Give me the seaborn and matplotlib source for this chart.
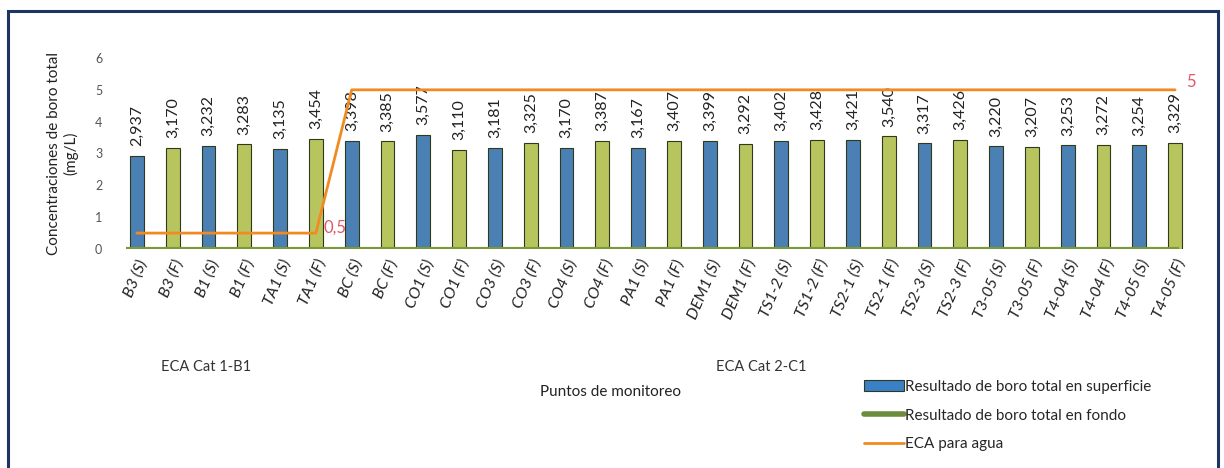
import pandas as pd
import seaborn as sns
from matplotlib import pyplot as plt
from matplotlib.lines import Line2D
from matplotlib.patches import Patch, Rectangle

sns.set_theme(style="white")
plt.rcParams["font.family"] = ["Lato", "DejaVu Sans"]

puntos = ["B3 (S)", "B3 (F)", "B1 (S)", "B1 (F)", "TA1 (S)", "TA1 (F)",
          "BC (S)", "BC (F)", "CO1 (S)", "CO1 (F)", "CO3 (S)", "CO3 (F)",
          "CO4 (S)", "CO4 (F)", "PA1 (S)", "PA1 (F)", "DEM1 (S)", "DEM1 (F)",
          "TS1-2 (S)", "TS1-2 (F)", "TS2-1 (S)", "TS2-1 (F)", "TS2-3 (S)", "TS2-3 (F)",
          "T3-05 (S)", "T3-05 (F)", "T4-04 (S)", "T4-04 (F)", "T4-05 (S)", "T4-05 (F)"]
boro = [2.937, 3.170, 3.232, 3.283, 3.135, 3.454,
        3.398, 3.385, 3.577, 3.110, 3.181, 3.325,
        3.170, 3.387, 3.167, 3.407, 3.399, 3.292,
        3.402, 3.428, 3.421, 3.540, 3.317, 3.426,
        3.220, 3.207, 3.253, 3.272, 3.254, 3.329]
eca = [0.5] * 6 + [5] * 24

BLUE = "#3a80c6"
GREEN = "#c5d64e"
ORANGE = "#f28a22"
RED = "#e2566a"

df = pd.DataFrame({"punto": puntos, "boro": boro, "eca": eca})
df["pos"] = range(len(df))
df["tipo"] = ["superficie" if p.endswith("(S)") else "fondo" for p in puntos]

fig = plt.figure(figsize=(12.24, 4.68), dpi=100)
ax = fig.add_axes([119 / 1224, 1 - 249 / 468, 1074 / 1224, 191 / 468])

sns.barplot(data=df, x="punto", y="boro", hue="tipo", dodge=False, width=0.38,
            palette={"superficie": BLUE, "fondo": GREEN}, edgecolor="#2f3a1c",
            linewidth=0.8, legend=False, ax=ax)
ax.hlines(0, -0.3, 29.1, color="#7a9a3a", lw=3, zorder=3)
sns.lineplot(data=df, x="pos", y="eca", color=ORANGE, lw=2, ax=ax, zorder=4)

for i, v in enumerate(boro):
    ax.annotate(f"{v:.3f}".replace(".", ","), (i, v), xytext=(0, 7),
                textcoords="offset points", rotation=90, ha="center", va="bottom",
                fontsize=11.5, color="#222222")

ax.text(5.2, 0.68, "0,5", color=RED, fontsize=12, ha="left", va="center")
ax.text(29.3, 5.25, "5", color=RED, fontsize=12, ha="left", va="center", clip_on=False)

ax.set_xlim(-0.5, 29.5)
ax.set_ylim(0, 6)
ax.set_yticks(range(0, 7))
ax.tick_params(axis="y", labelsize=9, labelcolor="#555555", length=0, pad=12)
ax.tick_params(axis="x", length=0, pad=6)
ax.set_xticks(range(len(puntos)))
ax.set_xticklabels(puntos, rotation=67, ha="right", rotation_mode="anchor",
                   fontsize=11.5, style="italic", color="#222222")
ax.set_xlabel("")
ax.set_ylabel("Concentraciones de boro total\n(mg/L)", fontsize=11, color="#222222",
              labelpad=12)
for s in ax.spines.values():
    s.set_visible(False)

fig.text(206 / 1224, 1 - 367 / 468, "ECA Cat 1-B1", ha="center", va="center",
         fontsize=10.5, color="#333333")
fig.text(761 / 1224, 1 - 367 / 468, "ECA Cat 2-C1", ha="center", va="center",
         fontsize=10.5, color="#333333")
fig.text(610 / 1224, 1 - 392 / 468, "Puntos de monitoreo", ha="center", va="center",
         fontsize=11, color="#222222")

handles = [Patch(facecolor=BLUE, edgecolor="#2f3a1c", lw=0.8),
           Line2D([], [], color="#6d8c3c", lw=4),
           Line2D([], [], color=ORANGE, lw=2)]
labels = ["Resultado de boro total en superficie", "Resultado de boro total en fondo",
          "ECA para agua"]
fig.legend(handles, labels, loc="upper left", bbox_to_anchor=(858 / 1224, 1 - 374 / 468),
           frameon=False, fontsize=11, handlelength=2.6, handletextpad=0.1,
           labelspacing=0.95, borderaxespad=0)

fig.patches.append(Rectangle((8 / 1224, -0.05), 1210 / 1224, 1.05 - 11 / 468,
                             transform=fig.transFigure, fill=False,
                             edgecolor="#1f3561", lw=2.2))

plt.savefig("out.png", dpi=100)
plt.close()
